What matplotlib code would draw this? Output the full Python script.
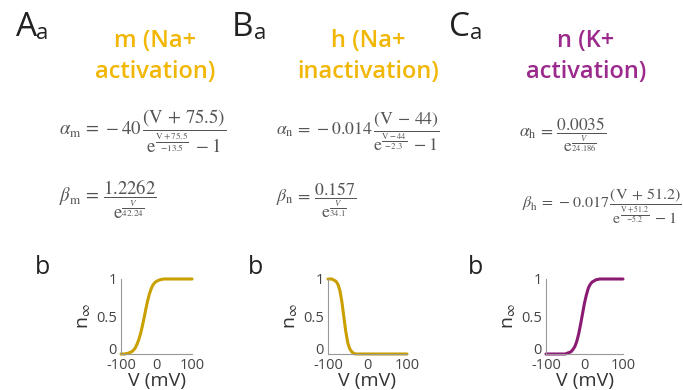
import matplotlib.pyplot as plt
from matplotlib.transforms import ScaledTranslation

plt.rcParams['mathtext.fontset'] = 'stix'

# steady-state curves
V = [-100, -90, -80, -75, -70, -65, -60, -55, -50, -45, -40, -35, -30, -25, -20, -15, -10, -5, 0, 5, 10, 15, 20, 30, 40, 50, 60, 70, 80, 90, 100]
m_inf = [0.0, 0.0, 0.01, 0.02, 0.03, 0.05, 0.08, 0.13, 0.19, 0.27, 0.37, 0.48, 0.60, 0.71, 0.80, 0.87, 0.92, 0.95, 0.97, 0.98, 0.99, 0.995, 1.0, 1.0, 1.0, 1.0, 1.0, 1.0, 1.0, 1.0, 1.0]
h_inf = [1.0, 1.0, 0.97, 0.93, 0.85, 0.70, 0.50, 0.30, 0.15, 0.07, 0.03, 0.01, 0.0, 0.0, 0.0, 0.0, 0.0, 0.0, 0.0, 0.0, 0.0, 0.0, 0.0, 0.0, 0.0, 0.0, 0.0, 0.0, 0.0, 0.0, 0.0]
n_inf = [0.0, 0.0, 0.0, 0.0, 0.0, 0.0, 0.0, 0.0, 0.0, 0.01, 0.02, 0.03, 0.06, 0.10, 0.17, 0.27, 0.40, 0.54, 0.68, 0.79, 0.88, 0.93, 0.96, 0.99, 1.0, 1.0, 1.0, 1.0, 1.0, 1.0, 1.0]

panel_letters = ['A', 'B', 'C']
titles = [('m (Na+', 'activation)'), ('h (Na+', 'inactivation)'), ('n (K+', 'activation)')]
alpha_eqs = [
    r'$\alpha_{\rm m}\,=\,-40\,\dfrac{(\rm V\,+\,75.5)}{{\rm e}^{\frac{V+75.5}{-13.5}}\;-1}$',
    r'$\alpha_{\rm n}\,=\,-0.014\,\dfrac{(\rm V\,-\,44)}{{\rm e}^{\frac{V-44}{-2.3}}\;-1}$',
    r'$\alpha_{\rm h}\,=\,\dfrac{0.0035}{{\rm e}^{\frac{V}{24.186}}}$',
]
beta_eqs = [
    r'$\beta_{\rm m}\,=\,\dfrac{1.2262}{{\rm e}^{\frac{V}{42.24}}}$',
    r'$\beta_{\rm n}\,=\,\dfrac{0.157}{{\rm e}^{\frac{V}{34.1}}}$',
    r'$\beta_{\rm h}\,=\,-0.017\,\dfrac{(\rm V\,+\,51.2)}{{\rm e}^{\frac{V+51.2}{-5.2}}\;-1}$',
]
curves = [m_inf, h_inf, n_inf]
xtick_labels = ['-100', '0', '100']
ytick_labels = ['0', '0.5', '1']

gold = '#f2b705'
purple = '#9b2a8c'
title_colors = [gold, gold, purple]
line_colors = ['#c9a000', '#c9a000', '#8b1a73']

W, H = 683, 390
fig = plt.figure(figsize=(W / 100, H / 100), dpi=100)

def fx(px):
    return px / W

def fy(py):
    return 1 - py / H

letter_x = [16, 232, 449]
sub_x = [36, 254, 470]
title_x = [155, 368, 586]
alpha_pos = [(59, 135), (276, 135), (519, 136)]
beta_pos = [(59, 202), (276, 202), (522, 209)]
alpha_size = [13.5, 12.8, 12.5]
beta_size = [13.5, 12.8, 11.5]
b_x = [35, 248, 468]
ax_boxes = [(121, 71), (328, 79), (546, 77)]

for i in range(3):
    fig.text(fx(letter_x[i]), fy(36), panel_letters[i], fontsize=24, color='#222222',
             family='Open Sans', va='baseline')
    fig.text(fx(sub_x[i]), fy(39), 'a', fontsize=16, color='#222222',
             family='Open Sans', va='baseline')
    fig.text(fx(title_x[i]), fy(47), titles[i][0], fontsize=17, color=title_colors[i],
             family='Open Sans', weight='semibold', ha='center', va='baseline')
    fig.text(fx(title_x[i]), fy(78), titles[i][1], fontsize=17, color=title_colors[i],
             family='Open Sans', weight='semibold', ha='center', va='baseline')
    fig.text(fx(alpha_pos[i][0]), fy(alpha_pos[i][1]), alpha_eqs[i], fontsize=alpha_size[i],
             color='#555555', va='baseline')
    fig.text(fx(beta_pos[i][0]), fy(beta_pos[i][1]), beta_eqs[i], fontsize=beta_size[i],
             color='#555555', va='baseline')
    fig.text(fx(b_x[i]), fy(274), 'b', fontsize=18, color='#222222',
             family='Open Sans', va='baseline')

    left, width = ax_boxes[i]
    ax = fig.add_axes([fx(left), fy(354), fx(width), 75 / H])
    ax.plot(V, curves[i], color=line_colors[i], lw=2.2, solid_capstyle='round', clip_on=False)
    ax.set_xlim(-100, 100)
    ax.set_ylim(0, 1)
    ax.set_xticks([-100, 0, 100])
    ax.set_xticklabels(xtick_labels)
    ax.set_yticks([0, 0.5, 1])
    ax.set_yticklabels(ytick_labels)
    for s in ['top', 'right']:
        ax.spines[s].set_visible(False)
    for s in ['left', 'bottom']:
        ax.spines[s].set_color('#999999')
        ax.spines[s].set_linewidth(0.8)
    ax.tick_params(length=0, labelsize=10.5, colors='#444444')
    ax.tick_params(axis='x', pad=3)
    ax.tick_params(axis='y', pad=3)
    for lab in ax.get_xticklabels() + ax.get_yticklabels():
        lab.set_family('Open Sans')
    # the "0" on the y axis sits a little higher than its tick
    zero = ax.get_yticklabels()[0]
    zero.set_transform(zero.get_transform() + ScaledTranslation(0, 5 / 100, fig.dpi_scale_trans))
    ax.set_xlabel('V (mV)', fontsize=14, family='Open Sans', color='#333333', labelpad=-1)
    ax.set_ylabel(r'n$_\infty$', fontsize=14, family='Open Sans', color='#333333', labelpad=2)
    ax.patch.set_alpha(0)

fig.savefig('out.png', dpi=100)
